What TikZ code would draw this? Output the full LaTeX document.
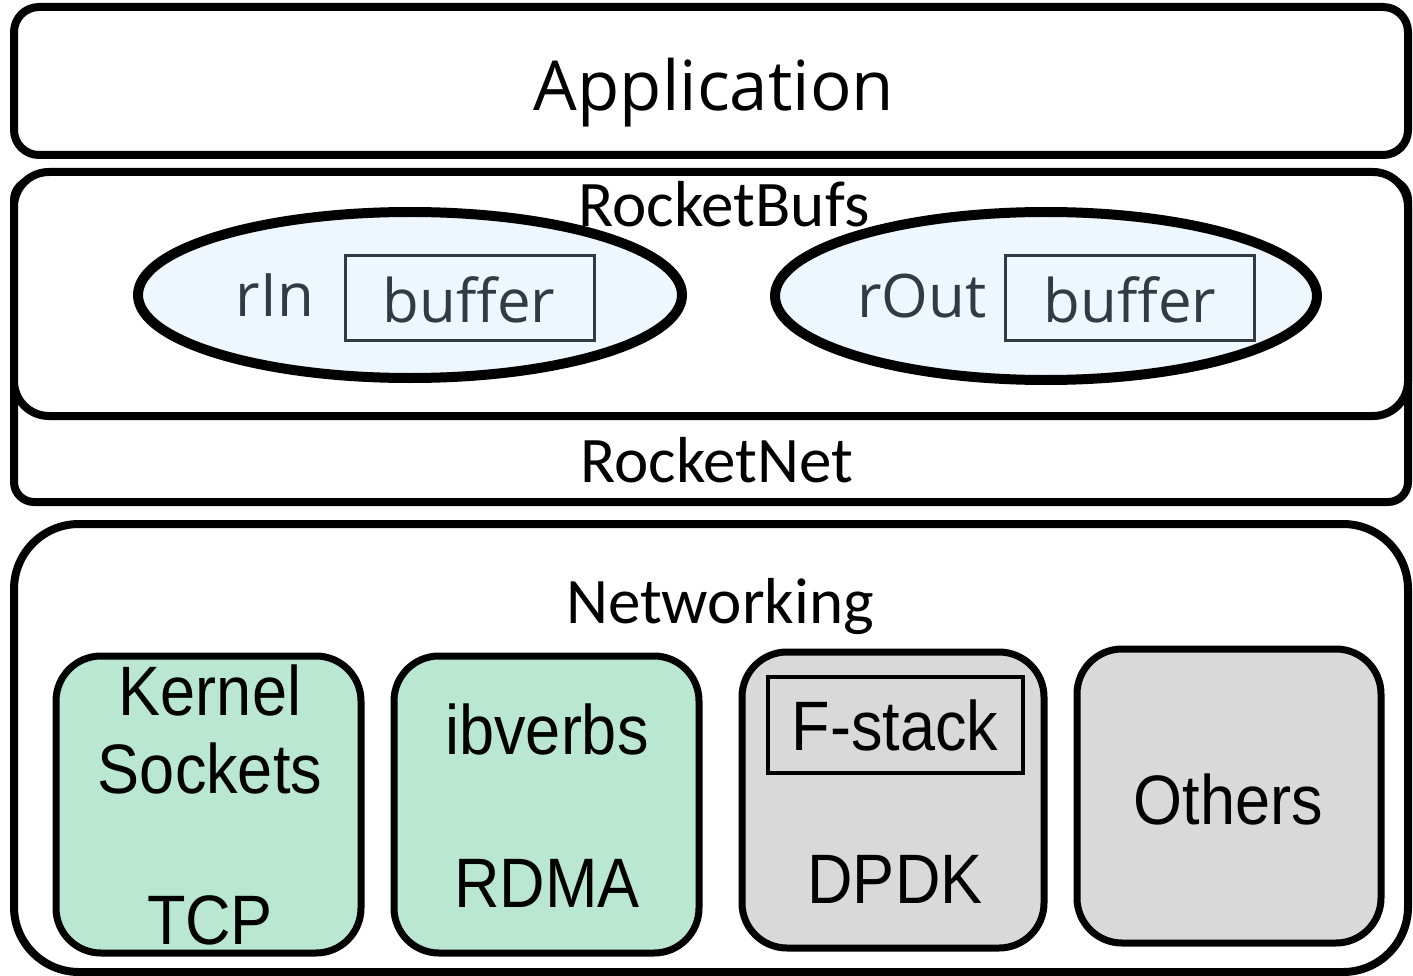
\documentclass[tikz,border=0pt]{standalone}
\usepackage{fontspec}
\setmainfont{Liberation Sans}
\newfontfamily\osans{Open Sans}
\newfontfamily\carl{Carlito}
\newfontfamily\arialc[FakeStretch=0.9]{Liberation Sans}
\usetikzlibrary{shapes.geometric}
\definecolor{greenfill}{HTML}{B9E7D1}
\definecolor{grayfill}{HTML}{D9D9D9}
\definecolor{bluefill}{HTML}{EEF6FE}
\definecolor{slate}{HTML}{323A44}
\tikzset{
  layerbox/.style={draw=black, line width=8pt, fill=white, rectangle, inner sep=0pt},
  techbox/.style={draw=black, line width=7pt, rectangle, rounded corners=45pt, inner sep=0pt, minimum width=305pt},
  bufell/.style={draw=black, line width=10pt, fill=bluefill, ellipse, inner sep=0pt},
  bufbox/.style={draw=slate, line width=3pt, rectangle, inner sep=0pt, minimum width=249pt, minimum height=84pt},
  layertxt/.style={font=\carl\fontsize{65}{78}\selectfont, inner sep=0pt},
  buftxt/.style={font=\osans\fontsize{60}{72}\selectfont, text=slate, inner sep=0pt},
  techtxt/.style={font=\arialc\fontsize{70}{78}\selectfont, inner sep=0pt, align=center}
}
\begin{document}
\begin{tikzpicture}[x=1pt,y=-1pt]
\useasboundingbox (0,0) rectangle (1413,976);
% layers
\node[layerbox, rounded corners=25pt, minimum width=1394pt, minimum height=148pt] (app) at (711,81) {};
\node[layerbox, rounded corners=20pt, minimum width=1394pt, minimum height=322pt] (net) at (711,341) {};
\node[layerbox, rounded corners=35pt, minimum width=1394pt, minimum height=244pt] (bufs) at (711,294) {};
\node[layerbox, rounded corners=65pt, minimum width=1394pt, minimum height=448pt] (netw) at (711,748) {};
% texts of layers
\node[font=\osans\fontsize{69}{80}\selectfont, inner sep=0pt] (apptxt) at (714,93) {Application};
\node[layertxt] (nettxt) at (717,460) {RocketNet};
\node[layertxt] (netwtxt) at (720,607) {Networking};
% buffers
\node[bufell, minimum width=544pt, minimum height=166pt] (rin) at (410,295) {};
\node[bufell, minimum width=542pt, minimum height=168pt] (rout) at (1046,296) {};
\node[bufbox] (inbuf) at (469.5,298) {};
\node[bufbox] (outbuf) at (1130,298) {};
\node[buftxt] (rintxt) at (275,295) {rIn};
\node[buftxt] (routtxt) at (922,296) {rOut};
\node[buftxt] (inbuftxt) at (469,300) {buffer};
\node[buftxt] (outbuftxt) at (1130,300) {buffer};
\node[layertxt] (bufstxt) at (724,204) {RocketBufs};
% networking techs
\node[techbox, fill=greenfill, minimum height=297pt] (kern) at (208.5,804.5) {};
\node[techbox, fill=greenfill, minimum height=297pt] (ib) at (546.5,804.5) {};
\node[techbox, fill=grayfill, minimum width=302pt, minimum height=296pt] (dpdk) at (893,800) {};
\node[techbox, fill=grayfill, minimum width=304pt, minimum height=294pt] (oth) at (1229,796) {};
\node[draw=black, line width=4pt, rectangle, inner sep=0pt, minimum width=255pt, minimum height=96pt] (fstack) at (895.5,725) {};
\node[techtxt] (kt1) at (210,690) {Kernel};
\node[techtxt] (kt2) at (210,768) {Sockets};
\node[techtxt] (kt3) at (210,920) {TCP};
\node[techtxt] (ibt1) at (547,729) {ibverbs};
\node[techtxt] (ibt2) at (547,883) {RDMA};
\node[techtxt] (fst) at (895,725) {F-stack};
\node[techtxt] (dpt) at (895,879) {DPDK};
\node[techtxt] (otht) at (1228,799) {Others};
\end{tikzpicture}
\end{document}
